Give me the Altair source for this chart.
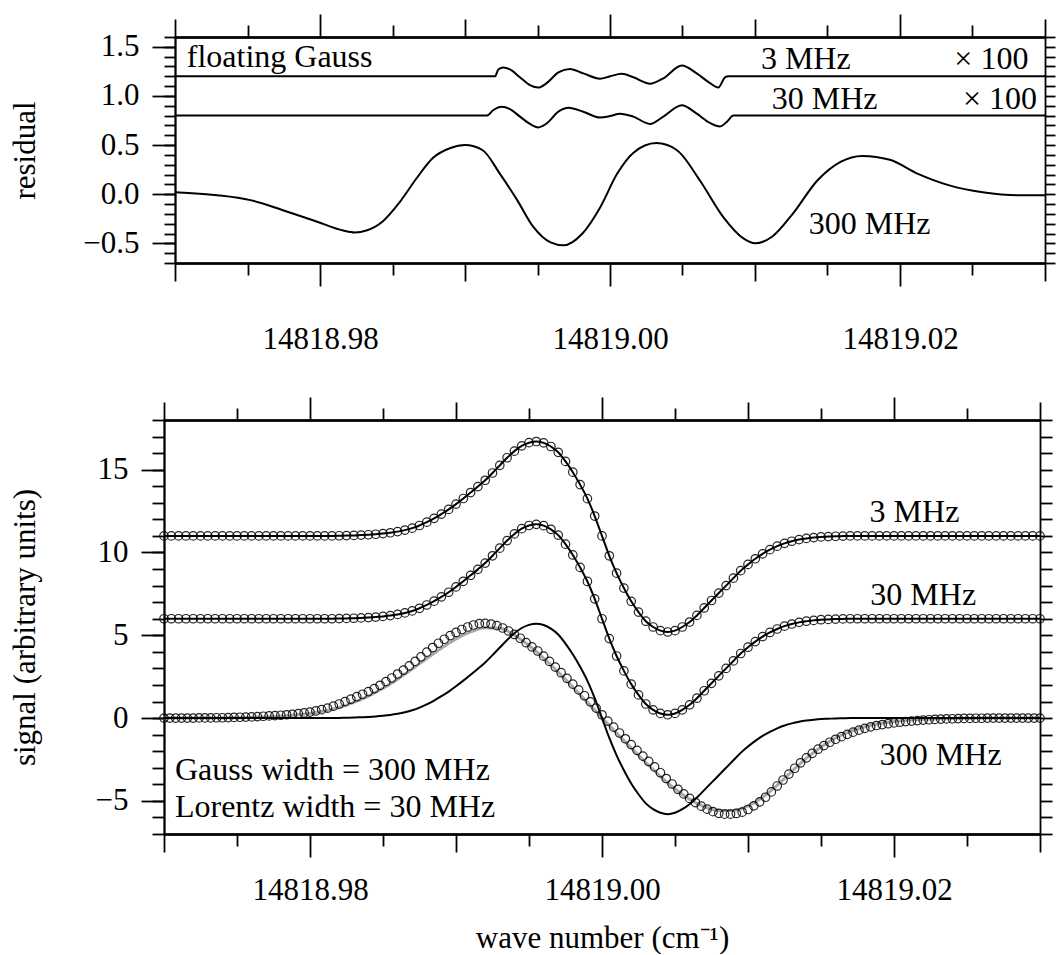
import altair as alt
import numpy as np
import pandas as pd

FONT = "Liberation Serif"
X_DOMAIN = [14818.97, 14819.03]

# ---------------- top panel: residuals ----------------
res300_x = [14818.9700, 14818.9729, 14818.9752, 14818.9774, 14818.9798, 14818.9816, 14818.9824,
            14818.9832, 14818.9843, 14818.9855, 14818.9867, 14818.9878, 14818.9890, 14818.9900,
            14818.9912, 14818.9924, 14818.9936, 14818.9947, 14818.9959, 14818.9968, 14818.9981,
            14818.9993, 14819.0005, 14819.0016, 14819.0032, 14819.0046, 14819.0062, 14819.0078,
            14819.0092, 14819.0100, 14819.0112, 14819.0126, 14819.0143, 14819.0159, 14819.0174,
            14819.0193, 14819.0212, 14819.0234, 14819.0257, 14819.0281, 14819.0300]
res300_y = [0.02, -0.01, -0.06, -0.16, -0.28, -0.37, -0.39,
            -0.37, -0.28, -0.08, 0.17, 0.37, 0.47, 0.50,
            0.45, 0.21, -0.06, -0.33, -0.49, -0.52, -0.40,
            -0.14, 0.21, 0.42, 0.52, 0.45, 0.14, -0.23,
            -0.45, -0.50, -0.43, -0.20, 0.14, 0.33, 0.39,
            0.35, 0.21, 0.09, 0.02, -0.01, -0.01]

res3_x = [14818.9700, 14818.99207, 14818.99230, 14818.99264, 14818.99310, 14818.99379, 14818.99448,
          14818.99506, 14818.99563, 14818.99644, 14818.99724, 14818.99816, 14818.99931, 14819.00000,
          14819.00081, 14819.00161, 14819.00276, 14819.00368, 14819.00495, 14819.00598, 14819.00690,
          14819.00747, 14819.00793, 14819.00816, 14819.0300]
res3_y = [1.20, 1.20, 1.27, 1.29, 1.27, 1.19, 1.11,
          1.085, 1.13, 1.24, 1.275, 1.23, 1.175, 1.20,
          1.225, 1.19, 1.125, 1.18, 1.31, 1.23, 1.13,
          1.085, 1.19, 1.20, 1.20]

res30_x = [14818.9700, 14818.99150, 14818.99196, 14818.99253, 14818.99310, 14818.99379, 14818.99448,
           14818.99506, 14818.99563, 14818.99644, 14818.99713, 14818.99816, 14818.99931, 14819.00000,
           14819.00069, 14819.00161, 14819.00276, 14819.00368, 14819.00495, 14819.00598, 14819.00690,
           14819.00759, 14819.00805, 14819.00851, 14819.0300]
res30_y = [0.80, 0.80, 0.857, 0.89, 0.866, 0.79, 0.715,
           0.68, 0.72, 0.84, 0.88, 0.84, 0.78, 0.795,
           0.82, 0.79, 0.715, 0.79, 0.905, 0.82, 0.725,
           0.69, 0.735, 0.80, 0.80]

# ---------------- bottom panel: signals ----------------
grid_start = 14818.97
step_narrow = 0.0005      # 121 samples
step_data300 = 0.0004     # 151 samples
step_float = 0.001        # 61 samples

# deviation of 3 MHz / 30 MHz curves (and fixed-width 300 MHz fit) from their baselines
dev_narrow = [0.0, 0.0, 0.0, 0.0, 0.0, 0.0, 0.0, 0.0, 0.0, 0.0, 0.0, 0.0,
              0.0, 0.0, 0.0, 0.0, 0.0, 0.0, 0.0, 0.0, 0.0, 0.0, 0.0, 0.0,
              0.01, 0.02, 0.03, 0.05, 0.07, 0.1, 0.14, 0.19, 0.26, 0.35, 0.47, 0.63,
              0.83, 1.06, 1.32, 1.6, 1.92, 2.26, 2.62, 2.98, 3.36, 3.8, 4.26, 4.72,
              5.12, 5.44, 5.63, 5.7, 5.62, 5.4, 5.05, 4.5, 3.85, 3.1, 2.25, 1.2,
              0.0, -1.2, -2.25, -3.15, -3.95, -4.6, -5.15, -5.5, -5.72, -5.8, -5.72, -5.5,
              -5.2, -4.8, -4.35, -3.9, -3.45, -3.0, -2.55, -2.1, -1.72, -1.38, -1.08, -0.83,
              -0.62, -0.45, -0.32, -0.22, -0.15, -0.1, -0.06, -0.04, -0.02, -0.01, 0.0, 0.0,
              0.0, 0.0, 0.0, 0.0, 0.0, 0.0, 0.0, 0.0, 0.0, 0.0, 0.0, 0.0,
              0.0, 0.0, 0.0, 0.0, 0.0, 0.0, 0.0, 0.0, 0.0, 0.0, 0.0, 0.0, 0.0]
offset_3mhz = 11.0
offset_30mhz = 6.0

sig_300mhz = [0.0, 0.0, 0.0, 0.0, 0.0, 0.0, 0.01, 0.01, 0.01, 0.02,
              0.02, 0.03, 0.04, 0.05, 0.06, 0.07, 0.09, 0.11, 0.13, 0.15,
              0.17, 0.2, 0.23, 0.27, 0.31, 0.36, 0.43, 0.51, 0.6, 0.72,
              0.85, 0.99, 1.14, 1.29, 1.44, 1.6, 1.78, 1.98, 2.2, 2.42,
              2.66, 2.9, 3.15, 3.42, 3.7, 3.98, 4.26, 4.52, 4.76, 4.98,
              5.17, 5.35, 5.5, 5.62, 5.7, 5.72, 5.68, 5.58, 5.44, 5.26,
              5.05, 4.82, 4.56, 4.3, 4.05, 3.74, 3.42, 3.08, 2.74, 2.4,
              2.05, 1.7, 1.35, 0.98, 0.6, 0.2, -0.18, -0.55, -0.9, -1.25,
              -1.6, -1.95, -2.3, -2.62, -2.95, -3.3, -3.65, -3.98, -4.3, -4.58,
              -4.85, -5.1, -5.32, -5.5, -5.65, -5.75, -5.8, -5.8, -5.76, -5.68,
              -5.52, -5.3, -5.06, -4.78, -4.46, -4.1, -3.74, -3.38, -3.03, -2.7,
              -2.4, -2.13, -1.88, -1.66, -1.46, -1.28, -1.12, -0.98, -0.85, -0.73,
              -0.62, -0.53, -0.45, -0.39, -0.34, -0.29, -0.25, -0.21, -0.18, -0.15,
              -0.12, -0.1, -0.08, -0.06, -0.05, -0.04, -0.03, -0.02, -0.02, -0.01,
              -0.01, 0.0, 0.0, 0.0, 0.0, 0.0, 0.0, 0.0, 0.0, 0.0, 0.0]

float_gauss_300 = [0.0, 0.0, 0.0, 0.0, 0.01, 0.02, 0.04, 0.07, 0.11, 0.18,
                   0.28, 0.43, 0.64, 0.95, 1.33, 1.8, 2.35, 2.96, 3.6, 4.22,
                   4.78, 5.2, 5.45, 5.42, 5.0, 4.38, 3.62, 2.78, 1.88, 0.95,
                   0.02, -0.9, -1.8, -2.68, -3.52, -4.28, -4.9, -5.35, -5.58, -5.58,
                   -5.3, -4.78, -4.05, -3.22, -2.42, -1.74, -1.2, -0.8, -0.52, -0.33,
                   -0.2, -0.12, -0.07, -0.04, -0.02, -0.01, 0.0, 0.0, 0.0, 0.0, 0.0]

# axis tick values
x_major = [14818.98, 14819.00, 14819.02]
x_mid = [14818.97, 14818.99, 14819.01, 14819.03]
x_minor = [14818.975, 14818.985, 14818.995, 14819.005, 14819.015, 14819.025]
res_major = [-0.5, 0.0, 0.5, 1.0, 1.5]
res_minor = [-0.7, -0.6, -0.5, -0.4, -0.3, -0.2, -0.1, 0.0, 0.1, 0.2, 0.3, 0.4,
             0.5, 0.6, 0.7, 0.8, 0.9, 1.0, 1.1, 1.2, 1.3, 1.4, 1.5, 1.6]
sig_major = [-5, 0, 5, 10, 15]
sig_minor = [-7, -6, -5, -4, -3, -2, -1, 0, 1, 2, 3, 4, 5, 6, 7, 8, 9, 10,
             11, 12, 13, 14, 15, 16, 17, 18]

# annotations
top_text_left = pd.DataFrame({"x": [14818.97081], "y": [1.40], "t": ["floating Gauss"]})
top_text_center = pd.DataFrame({
    "x": [14819.0135, 14819.0263, 14819.0148, 14819.0269, 14819.0179],
    "y": [1.375, 1.375, 0.964, 0.964, -0.307],
    "t": ["3 MHz", "\u00d7 100", "30 MHz", "\u00d7 100", "300 MHz"]})
bot_text_left = pd.DataFrame({"x": [14818.97075, 14818.97075], "y": [-3.14, -5.37],
                              "t": ["Gauss width = 300 MHz", "Lorentz width = 30 MHz"]})
bot_text_center = pd.DataFrame({"x": [14819.0214, 14819.0220, 14819.0232],
                                "y": [12.44, 7.43, -2.23],
                                "t": ["3 MHz", "30 MHz", "300 MHz"]})

# ---------------- tables ----------------
x_narrow = np.round(grid_start + step_narrow * np.arange(len(dev_narrow)), 5)
x_data300 = np.round(grid_start + step_data300 * np.arange(len(sig_300mhz)), 5)
x_float = np.round(grid_start + step_float * np.arange(len(float_gauss_300)), 5)

res_df = pd.concat([
    pd.DataFrame({"x": res300_x, "y": res300_y, "s": "300"}),
    pd.DataFrame({"x": res3_x, "y": res3_y, "s": "3"}),
    pd.DataFrame({"x": res30_x, "y": res30_y, "s": "30"}),
])

circ_df = pd.concat([
    pd.DataFrame({"x": x_narrow, "y": [offset_3mhz + v for v in dev_narrow]}),
    pd.DataFrame({"x": x_narrow, "y": [offset_30mhz + v for v in dev_narrow]}),
    pd.DataFrame({"x": x_data300, "y": sig_300mhz}),
])
fit_df = pd.concat([
    pd.DataFrame({"x": x_narrow, "y": [offset_3mhz + v for v in dev_narrow], "s": "3"}),
    pd.DataFrame({"x": x_narrow, "y": [offset_30mhz + v for v in dev_narrow], "s": "30"}),
    pd.DataFrame({"x": x_narrow, "y": dev_narrow, "s": "300"}),
])
gray_df = pd.DataFrame({"x": x_float, "y": float_gauss_300})


def data_enc(xs, ys):
    return dict(x=alt.X("x:Q", scale=xs, axis=None), y=alt.Y("y:Q", scale=ys, axis=None))


def axis_layer(xs, ys, y0, xaxis=None, yaxis=None):
    d = pd.DataFrame({"ax": [X_DOMAIN[0]], "ay": [y0]})
    return alt.Chart(d).mark_point(opacity=0).encode(
        x=alt.X("ax:Q", scale=xs, axis=xaxis),
        y=alt.Y("ay:Q", scale=ys, axis=yaxis))


def ax(orient, values, tick, **kw):
    base = dict(orient=orient, values=values, tickSize=tick, grid=False, title=None,
                labels=False, labelFlush=False, labelOverlap=False)
    base.update(kw)
    return alt.Axis(**base)


def text_layer(df, xs, ys, align):
    return alt.Chart(df).mark_text(align=align, baseline="middle", font=FONT, fontSize=32,
                                   color="black").encode(
        x=alt.X("x:Q", scale=xs, axis=None), y=alt.Y("y:Q", scale=ys, axis=None), text="t:N")


# ---------------- top panel ----------------
xs_t = alt.Scale(domain=X_DOMAIN, range=[11, 881], nice=False, zero=False)
ys_t = alt.Scale(domain=[-0.7, 1.6], nice=False, zero=False)

top_layers = [
    alt.Chart(res_df).mark_line(color="black", strokeWidth=2, interpolate="monotone").encode(
        detail="s:N", **data_enc(xs_t, ys_t)),
    text_layer(top_text_left, xs_t, ys_t, "left"),
    text_layer(top_text_center, xs_t, ys_t, "center"),
    axis_layer(xs_t, ys_t, 0, xaxis=ax("bottom", x_major, 23, labels=True, format=".2f",
                                       labelPadding=38)),
    axis_layer(xs_t, ys_t, 0, xaxis=ax("bottom", x_mid, 18)),
    axis_layer(xs_t, ys_t, 0, xaxis=ax("bottom", x_minor, 12)),
    axis_layer(xs_t, ys_t, 0, xaxis=ax("top", x_major, 23)),
    axis_layer(xs_t, ys_t, 0, xaxis=ax("top", x_mid, 18)),
    axis_layer(xs_t, ys_t, 0, xaxis=ax("top", x_minor, 12)),
    axis_layer(xs_t, ys_t, 0, yaxis=ax("left", res_major, 23, labels=True, format=".1f",
                                       labelPadding=13, offset=-11, title="residual",
                                       titlePadding=41)),
    axis_layer(xs_t, ys_t, 0, yaxis=ax("left", res_minor, 11, offset=-11)),
    axis_layer(xs_t, ys_t, 0, yaxis=ax("right", res_minor, 10)),
]
top = alt.layer(*top_layers).resolve_axis(x="independent", y="independent").properties(
    width=881, height=226)

# ---------------- bottom panel ----------------
xs_b = alt.Scale(domain=X_DOMAIN, nice=False, zero=False)
ys_b = alt.Scale(domain=[-7, 18], nice=False, zero=False)

bot_layers = [
    alt.Chart(gray_df).mark_line(color="#a8a8a8", strokeWidth=3, interpolate="monotone").encode(
        **data_enc(xs_b, ys_b)),
    alt.Chart(circ_df).mark_point(shape="circle", filled=False, size=72, strokeWidth=1.2,
                                  color="black", opacity=0.85).encode(**data_enc(xs_b, ys_b)),
    alt.Chart(fit_df).mark_line(color="black", strokeWidth=2, interpolate="monotone").encode(
        detail="s:N", **data_enc(xs_b, ys_b)),
    text_layer(bot_text_left, xs_b, ys_b, "left"),
    text_layer(bot_text_center, xs_b, ys_b, "center"),
    axis_layer(xs_b, ys_b, 0, xaxis=ax("bottom", x_major, 23, labels=True, format=".2f",
                                       labelPadding=18, title="wave number (cm\u207b\u00b9)",
                                       titlePadding=18)),
    axis_layer(xs_b, ys_b, 0, xaxis=ax("bottom", x_mid, 18)),
    axis_layer(xs_b, ys_b, 0, xaxis=ax("bottom", x_minor, 12)),
    axis_layer(xs_b, ys_b, 0, xaxis=ax("top", x_major, 23)),
    axis_layer(xs_b, ys_b, 0, xaxis=ax("top", x_mid, 18)),
    axis_layer(xs_b, ys_b, 0, xaxis=ax("top", x_minor, 12)),
    axis_layer(xs_b, ys_b, 0, yaxis=ax("left", sig_major, 23, labels=True, format="d",
                                       labelPadding=13, title="signal (arbitrary units)",
                                       titlePadding=54)),
    axis_layer(xs_b, ys_b, 0, yaxis=ax("left", sig_minor, 12)),
    axis_layer(xs_b, ys_b, 0, yaxis=ax("right", sig_minor, 12)),
]
bottom = alt.layer(*bot_layers).resolve_axis(x="independent", y="independent").properties(
    width=876, height=414)

chart = alt.vconcat(top, bottom, spacing=40).properties(
    padding={"left": 8, "top": 12, "right": 0, "bottom": 0}
).configure_view(stroke="transparent").configure_axis(
    domainColor="black", tickColor="black", domainWidth=1.8, tickWidth=1.8,
    labelColor="black", titleColor="black", labelFont=FONT, titleFont=FONT,
    labelFontSize=31, titleFontSize=31, titleFontWeight="normal"
)

chart.save("out.html", embed_options={"renderer": "svg", "actions": False})
